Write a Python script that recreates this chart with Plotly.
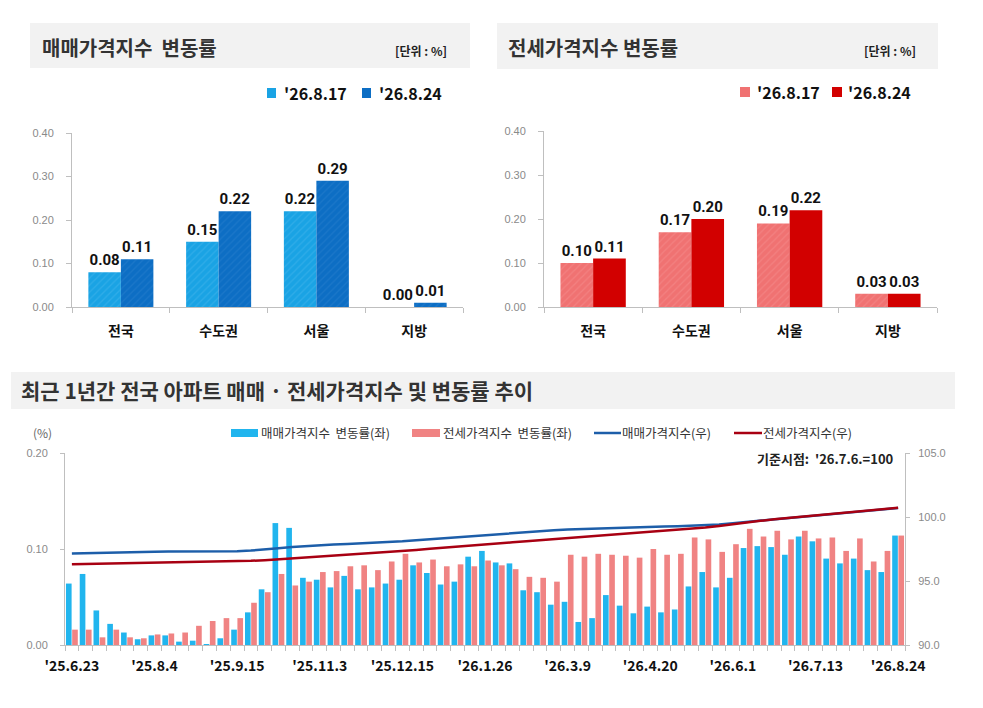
import plotly.graph_objects as go

# 상단: 지역별 주간 변동률 (%)
regions = ["전국", "수도권", "서울", "지방"]
sale_0817 = [0.08, 0.15, 0.22, 0.00]
sale_0824 = [0.11, 0.22, 0.29, 0.01]
jeonse_0817 = [0.10, 0.17, 0.19, 0.03]
jeonse_0824 = [0.11, 0.20, 0.22, 0.03]

# 하단: 최근 1년간 주간 추이 (추석 주간 제외)
weeks = ["'25.6.23", "'25.6.30", "'25.7.7", "'25.7.14", "'25.7.21", "'25.7.28",
         "'25.8.4", "'25.8.11", "'25.8.18", "'25.8.25", "'25.9.1", "'25.9.8",
         "'25.9.15", "'25.9.22", "'25.9.29", "'25.10.13", "'25.10.20", "'25.10.27",
         "'25.11.3", "'25.11.10", "'25.11.17", "'25.11.24", "'25.12.1", "'25.12.8",
         "'25.12.15", "'25.12.22", "'25.12.29", "'26.1.5", "'26.1.12", "'26.1.19",
         "'26.1.26", "'26.2.2", "'26.2.9", "'26.2.16", "'26.2.23", "'26.3.2",
         "'26.3.9", "'26.3.16", "'26.3.23", "'26.3.30", "'26.4.6", "'26.4.13",
         "'26.4.20", "'26.4.27", "'26.5.4", "'26.5.11", "'26.5.18", "'26.5.25",
         "'26.6.1", "'26.6.8", "'26.6.15", "'26.6.22", "'26.6.29", "'26.7.6",
         "'26.7.13", "'26.7.20", "'26.7.27", "'26.8.3", "'26.8.10", "'26.8.17",
         "'26.8.24"]
tick_labels = ["'25.6.23", "'25.8.4", "'25.9.15", "'25.11.3", "'25.12.15", "'26.1.26",
               "'26.3.9", "'26.4.20", "'26.6.1", "'26.7.13", "'26.8.24"]

sale_rate = [0.064, 0.074, 0.036, 0.022, 0.013, 0.006, 0.010, 0.010, 0.0035, 0.0045,
             0.001, 0.007, 0.016, 0.034, 0.058, 0.127, 0.122, 0.070, 0.068, 0.060,
             0.072, 0.058, 0.060, 0.064, 0.068, 0.083, 0.075, 0.063, 0.066, 0.092,
             0.098, 0.086, 0.085, 0.057, 0.055, 0.042, 0.045, 0.024, 0.028, 0.052,
             0.041, 0.033, 0.040, 0.034, 0.037, 0.061, 0.076, 0.060, 0.070, 0.101,
             0.103, 0.102, 0.094, 0.113, 0.108, 0.090, 0.085, 0.090, 0.078, 0.076,
             0.114]
jeonse_rate = [0.016, 0.016, 0.008, 0.016, 0.008, 0.007, 0.011, 0.012, 0.013, 0.020,
               0.025, 0.028, 0.028, 0.044, 0.055, 0.074, 0.062, 0.066, 0.076, 0.077,
               0.082, 0.083, 0.078, 0.087, 0.095, 0.086, 0.089, 0.082, 0.084, 0.082,
               0.088, 0.083, 0.079, 0.071, 0.070, 0.066, 0.094, 0.092, 0.095, 0.094,
               0.093, 0.091, 0.100, 0.094, 0.095, 0.112, 0.110, 0.097, 0.105, 0.121,
               0.113, 0.119, 0.110, 0.119, 0.111, 0.112, 0.098, 0.111, 0.087, 0.098,
               0.114]
sale_index = [97.15, 97.18, 97.21, 97.24, 97.27, 97.28, 97.29, 97.30, 97.30, 97.30,
              97.30, 97.30, 97.32, 97.38, 97.45, 97.55, 97.65, 97.73, 97.80, 97.86,
              97.90, 97.94, 97.98, 98.03, 98.10, 98.18, 98.26, 98.34, 98.42, 98.50,
              98.58, 98.68, 98.77, 98.85, 98.92, 98.97, 99.02, 99.06, 99.10, 99.14,
              99.17, 99.20, 99.22, 99.25, 99.28, 99.31, 99.35, 99.42, 99.52, 99.62,
              99.72, 99.82, 99.92, 100.00, 100.10, 100.20, 100.30, 100.40, 100.50, 100.60,
              100.70]
jeonse_index = [96.30, 96.32, 96.34, 96.35, 96.36, 96.37, 96.38, 96.40, 96.42, 96.44,
                96.47, 96.50, 96.54, 96.58, 96.63, 96.70, 96.76, 96.83, 96.91, 96.98,
                97.04, 97.10, 97.17, 97.25, 97.34, 97.43, 97.52, 97.61, 97.70, 97.80,
                97.88, 97.95, 98.02, 98.10, 98.18, 98.26, 98.36, 98.44, 98.52, 98.60,
                98.67, 98.74, 98.82, 98.90, 98.99, 99.08, 99.18, 99.30, 99.45, 99.58,
                99.70, 99.82, 99.92, 100.00, 100.10, 100.20, 100.30, 100.42, 100.52, 100.62,
                100.72]

# 페이지 기본 여백(8px)만큼 줄여서 창 크기에 맞춤
PAD = 8
W, H = 983 - PAD, 708 - PAD
FONT = "Noto Sans CJK KR"
NUM = "Roboto, Noto Sans CJK KR"
AX = "#bfbfbf"

C_SALE1, C_SALE2 = "#1aa3e4", "#0d6ec4"
C_JEON1, C_JEON2 = "#f07272", "#d20000"
C_SALE_BAR, C_JEON_BAR = "#21b5ee", "#f08383"
C_SALE_LINE, C_JEON_LINE = "#1d5ea9", "#a80012"


def px(x):
    return (x - PAD) / W


def py(y):
    return 1 - (y - PAD) / H


fig = go.Figure()

# 매매가격지수 변동률 (좌상)
fig.add_trace(go.Bar(x=regions, y=sale_0817, name="'26.8.17", xaxis="x", yaxis="y",
                     marker=dict(color=C_SALE1, pattern=dict(shape="/", fgcolor="#45b6ec", size=5, solidity=0.25))))
fig.add_trace(go.Bar(x=regions, y=sale_0824, name="'26.8.24", xaxis="x", yaxis="y",
                     marker=dict(color=C_SALE2, pattern=dict(shape="/", fgcolor="#2a80cd", size=5, solidity=0.25))))
# 전세가격지수 변동률 (우상)
fig.add_trace(go.Bar(x=regions, y=jeonse_0817, name="'26.8.17", xaxis="x2", yaxis="y2",
                     marker=dict(color=C_JEON1, pattern=dict(shape="/", fgcolor="#f58f8f", size=5, solidity=0.25))))
fig.add_trace(go.Bar(x=regions, y=jeonse_0824, name="'26.8.24", xaxis="x2", yaxis="y2",
                     marker=dict(color=C_JEON2)))

fig.update_traces(selector=dict(type="bar"), texttemplate="%{y:.2f}", textposition="outside",
                  textfont=dict(family=NUM, size=15, color="#111111", weight="bold"),
                  cliponaxis=False, marker_line_width=0)

# 하단 추이
fig.add_trace(go.Bar(x=weeks, y=sale_rate, name="매매가격지수 변동률(좌)", xaxis="x3", yaxis="y3",
                     width=0.41, offset=-0.43, marker=dict(color=C_SALE_BAR, line_width=0)))
fig.add_trace(go.Bar(x=weeks, y=jeonse_rate, name="전세가격지수 변동률(좌)", xaxis="x3", yaxis="y3",
                     width=0.41, offset=0.02, marker=dict(color=C_JEON_BAR, line_width=0)))
fig.add_trace(go.Scatter(x=weeks, y=sale_index, name="매매가격지수(우)", xaxis="x3", yaxis="y4",
                         mode="lines", line=dict(color=C_SALE_LINE, width=2.5)))
fig.add_trace(go.Scatter(x=weeks, y=jeonse_index, name="전세가격지수(우)", xaxis="x3", yaxis="y4",
                         mode="lines", line=dict(color=C_JEON_LINE, width=2.5)))

ytick = dict(size=11, color="#8a8a8a", family="Liberation Sans, " + FONT)
xcat = dict(family=FONT, size=14, color="#111111", weight="bold")

common_x = dict(type="category", showline=True, linecolor=AX, linewidth=1, ticks="outside",
                tickson="boundaries", ticklen=5, tickcolor=AX, showgrid=False, fixedrange=True,
                automargin=False)
common_y = dict(showline=True, linecolor=AX, linewidth=1, ticks="outside", ticklen=5, tickcolor=AX,
                showgrid=False, zeroline=False, tickfont=ytick, fixedrange=True, automargin=False)

fig.update_layout(
    width=W, height=H,
    margin=dict(l=0, r=0, t=0, b=0),
    paper_bgcolor="white", plot_bgcolor="white",
    font=dict(family=FONT),
    showlegend=False,
    barmode="group",
    bargap=0.335, bargroupgap=0,
    xaxis=dict(common_x, domain=[px(72), px(463)], anchor="y", tickfont=xcat, ticklabelstandoff=11),
    yaxis=dict(common_y, domain=[py(307), py(133)], anchor="x", range=[0, 0.4], dtick=0.1,
               tickformat=".2f", ticklabelstandoff=10),
    xaxis2=dict(common_x, domain=[px(544), px(937)], anchor="y2", tickfont=xcat, ticklabelstandoff=11),
    yaxis2=dict(common_y, domain=[py(307), py(131)], anchor="x2", range=[0, 0.4], dtick=0.1,
                tickformat=".2f", ticklabelstandoff=10),
    xaxis3=dict(common_x, domain=[px(65), px(905)], anchor="y3",
                tickmode="array", tickvals=weeks,
                ticktext=[w if w in tick_labels else "" for w in weeks],
                tickfont=dict(family=FONT, size=14, color="#111111", weight="bold"),
                tickangle=0, ticklabelstandoff=8),
    yaxis3=dict(common_y, domain=[py(645), py(453)], anchor="x3", range=[0, 0.2], dtick=0.1,
                tickformat=".2f", ticklen=4, ticklabelstandoff=10),
    yaxis4=dict(common_y, overlaying="y3", side="right", anchor="x3", range=[90, 105], dtick=5,
                tickformat=".1f", ticklen=4, ticklabelstandoff=6),
)

shapes = [
    # 제목 배경
    dict(type="rect", x0=px(30), x1=px(470), y0=py(68), y1=py(23), fillcolor="#f2f2f2", line_width=0, layer="below"),
    dict(type="rect", x0=px(497), x1=px(938), y0=py(69), y1=py(23), fillcolor="#f2f2f2", line_width=0, layer="below"),
    dict(type="rect", x0=px(11), x1=px(955), y0=py(409), y1=py(372), fillcolor="#f2f2f2", line_width=0, layer="below"),
    # 범례 기호
    dict(type="rect", x0=px(267), x1=px(276), y0=py(98), y1=py(88), fillcolor=C_SALE1, line_width=0),
    dict(type="rect", x0=px(362), x1=px(371), y0=py(98), y1=py(88), fillcolor=C_SALE2, line_width=0),
    dict(type="rect", x0=px(740), x1=px(750), y0=py(97), y1=py(87), fillcolor=C_JEON1, line_width=0),
    dict(type="rect", x0=px(832), x1=px(842), y0=py(97), y1=py(87), fillcolor=C_JEON2, line_width=0),
    dict(type="rect", x0=px(231), x1=px(258), y0=py(437), y1=py(429), fillcolor=C_SALE_BAR, line_width=0),
    dict(type="rect", x0=px(412), x1=px(440), y0=py(437), y1=py(429), fillcolor=C_JEON_BAR, line_width=0),
    dict(type="line", x0=px(594), x1=px(621), y0=py(433), y1=py(433), line=dict(color=C_SALE_LINE, width=2.5)),
    dict(type="line", x0=px(734), x1=px(762), y0=py(433), y1=py(433), line=dict(color=C_JEON_LINE, width=2.5)),
]
for s in shapes:
    s.update(xref="paper", yref="paper")
fig.update_layout(shapes=shapes)

title_font = dict(family=FONT, size=20, color="#333333", weight="bold")
unit_font = dict(family=FONT, size=12, color="#222222", weight="bold")
leg_font = dict(family=FONT, size=16, color="#111111", weight="bold")
leg3_font = dict(family=FONT, size=12.5, color="#333333")
NB = "\u00a0"
ann = [
    dict(text="매매가격지수" + NB + NB + "변동률", x=px(40), y=py(47), xanchor="left", font=title_font),
    dict(text="[단위 : %]", x=px(449), y=py(50), xanchor="right", font=unit_font),
    dict(text="전세가격지수 변동률", x=px(506), y=py(47), xanchor="left", font=title_font),
    dict(text="[단위 : %]", x=px(918), y=py(50), xanchor="right", font=unit_font),
    dict(text="최근 1년간 전국 아파트 매매 · 전세가격지수 및 변동률 추이", x=px(19), y=py(390),
         xanchor="left", font=dict(family=FONT, size=21, color="#333333", weight="bold")),
    dict(text="'26.8.17", x=px(282), y=py(93), xanchor="left", font=leg_font),
    dict(text="'26.8.24", x=px(377), y=py(93), xanchor="left", font=leg_font),
    dict(text="'26.8.17", x=px(755), y=py(92), xanchor="left", font=leg_font),
    dict(text="'26.8.24", x=px(846), y=py(92), xanchor="left", font=leg_font),
    dict(text="매매가격지수" + NB + NB + "변동률(좌)", x=px(259), y=py(433), xanchor="left", font=leg3_font),
    dict(text="전세가격지수" + NB + NB + "변동률(좌)", x=px(441), y=py(433), xanchor="left", font=leg3_font),
    dict(text="매매가격지수(우)", x=px(620), y=py(433), xanchor="left", font=leg3_font),
    dict(text="전세가격지수(우)", x=px(761), y=py(433), xanchor="left", font=leg3_font),
    dict(text="(%)", x=px(42), y=py(432), xanchor="center", font=dict(family=FONT, size=12, color="#666666")),
    dict(text="기준시점:" + NB + NB + "'26.7.6.=100", x=px(896), y=py(458), xanchor="right",
         font=dict(family=FONT, size=13, color="#222222", weight="bold")),
]
for a in ann:
    a.update(xref="paper", yref="paper", yanchor="middle", showarrow=False)
fig.update_layout(annotations=ann)

fig.write_html("out.html")
